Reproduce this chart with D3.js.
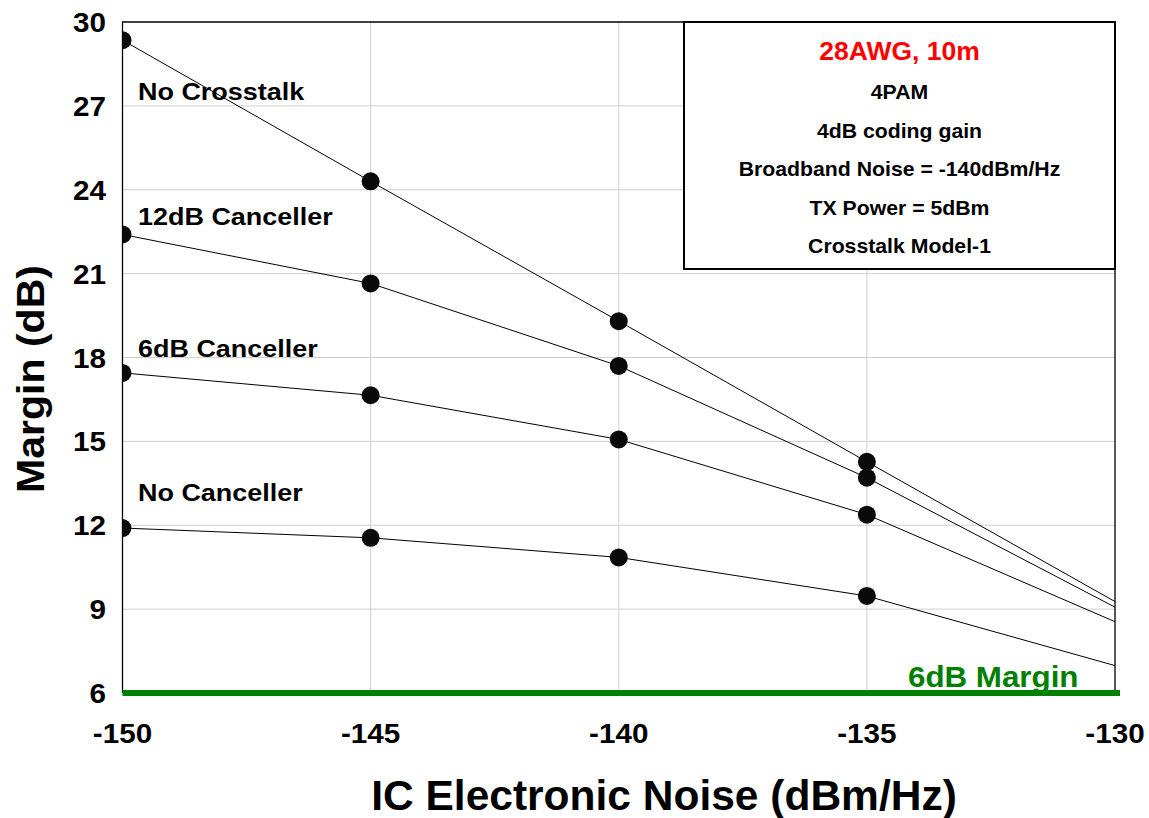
<!DOCTYPE html>
<html>
<head>
<meta charset="utf-8">
<script src="https://cdn.jsdelivr.net/npm/d3@7"></script>
<style>
  html, body { margin: 0; padding: 0; background: #fff; }
  svg { display: block; font-family: "Liberation Sans", Arial, Helvetica, sans-serif; font-weight: bold; }
</style>
</head>
<body>
<svg id="chart" width="1149" height="818"></svg>
<script>
// IC electronic noise levels (dBm/Hz)
const noiseLevels = [-150, -145, -140, -135, -130];

// Margin (dB) per crosstalk scenario
const noCrosstalk   = [29.35, 24.30, 19.30, 14.27, 9.27];
const canceller12dB = [22.40, 20.65, 17.70, 13.70, 9.07];
const canceller6dB  = [17.45, 16.65, 15.07, 12.38, 8.55];
const noCanceller   = [11.90, 11.55, 10.85, 9.47, 6.98];

const seriesNames = ["No Crosstalk", "12dB Canceller", "6dB Canceller", "No Canceller"];
const seriesValues = [noCrosstalk, canceller12dB, canceller6dB, noCanceller];

// Required margin reference
const marginTarget = 6;
const marginLabel = "6dB Margin";

const xTicks = [-150, -145, -140, -135, -130];
const yTicks = [6, 9, 12, 15, 18, 21, 24, 27, 30];

const infoTitle = "28AWG, 10m";
const infoLines = ["4PAM", "4dB coding gain", "Broadband Noise = -140dBm/Hz", "TX Power = 5dBm", "Crosstalk Model-1"];

const xTitle = "IC Electronic Noise (dBm/Hz)";
const yTitle = "Margin (dB)";

// ---- layout ----
const svg = d3.select("#chart");
const plot = { left: 122.5, right: 1115, top: 22, bottom: 693 };

const x = d3.scaleLinear().domain([-150, -130]).range([plot.left, plot.right]);
const y = d3.scaleLinear().domain([6, 30]).range([plot.bottom, plot.top]);

// text with horizontal stretch about its anchor point
function label(parent, str, px, py, opts) {
  const o = Object.assign({ size: 20, anchor: "start", sx: 1, fill: "#000", rotate: 0 }, opts);
  return parent.append("text")
    .attr("transform", `translate(${px},${py}) rotate(${o.rotate}) scale(${o.sx},1)`)
    .attr("text-anchor", o.anchor)
    .attr("font-size", o.size)
    .attr("fill", o.fill)
    .text(str);
}

svg.append("defs").append("clipPath").attr("id", "plotClip")
  .append("rect")
  .attr("x", plot.left).attr("y", plot.top - 12)
  .attr("width", plot.right - plot.left).attr("height", plot.bottom - plot.top + 12);

// grid
const grid = svg.append("g");
grid.selectAll("line.gy").data(yTicks.filter(d => d > 6 && d < 30)).join("line")
  .attr("x1", plot.left).attr("x2", plot.right)
  .attr("y1", d => y(d)).attr("y2", d => y(d))
  .attr("stroke", "#cfcfcf").attr("stroke-width", 1);
grid.selectAll("line.gx").data(xTicks.filter(d => d > -150 && d < -130)).join("line")
  .attr("y1", plot.top).attr("y2", plot.bottom)
  .attr("x1", d => x(d)).attr("x2", d => x(d))
  .attr("stroke", "#cfcfcf").attr("stroke-width", 1);

// plot frame (left, top, right)
svg.append("path")
  .attr("d", `M${plot.left},${plot.bottom}V${plot.top}H${plot.right}V${plot.bottom}`)
  .attr("fill", "none").attr("stroke", "#000").attr("stroke-width", 1.3);

// series lines and markers
const lineGen = d3.line().x((d, i) => x(noiseLevels[i])).y(d => y(d));
const marks = svg.append("g").attr("clip-path", "url(#plotClip)");
seriesValues.forEach(vals => {
  marks.append("path").datum(vals)
    .attr("d", lineGen)
    .attr("fill", "none").attr("stroke", "#000").attr("stroke-width", 1);
});
seriesValues.forEach(vals => {
  marks.selectAll(null).data(vals.slice(0, 4)).join("circle")
    .attr("cx", (d, i) => x(noiseLevels[i]))
    .attr("cy", d => y(d))
    .attr("r", 9)
    .attr("fill", "#0a0a0a");
});

// 6 dB margin line
svg.append("line")
  .attr("x1", x(-150)).attr("x2", x(-130) + 5)
  .attr("y1", y(marginTarget)).attr("y2", y(marginTarget))
  .attr("stroke", "#008000").attr("stroke-width", 6);
label(svg, marginLabel, 908, 687, { size: 29, fill: "#008000", sx: 1.08 });

// series labels
const labelPos = [[138, 100], [138, 225], [138, 357], [138, 501]];
seriesNames.forEach((n, i) => label(svg, n, labelPos[i][0], labelPos[i][1], { size: 24.5, sx: 1.1 }));

// axes tick labels
xTicks.forEach(t => label(svg, t, x(t), 743, { size: 28, anchor: "middle", sx: 1.06 }));
yTicks.forEach(t => label(svg, t, 106, y(t) + 10, { size: 28, anchor: "end", sx: 1.06 }));

// axis titles
label(svg, xTitle, 664, 810, { size: 42.5, anchor: "middle" });
label(svg, yTitle, 44, 379, { size: 38, anchor: "middle", rotate: -90, sx: 1.08 });

// info box
const box = { x: 684, y: 22, w: 431, h: 247 };
svg.append("rect")
  .attr("x", box.x).attr("y", box.y).attr("width", box.w).attr("height", box.h)
  .attr("fill", "#fff").attr("stroke", "#000").attr("stroke-width", 2);
const cx = box.x + box.w / 2;
label(svg, infoTitle, cx, 60, { size: 25, anchor: "middle", fill: "#ff0000", sx: 1.06 });
infoLines.forEach((s, i) => label(svg, s, cx, 99 + i * 38.5, { size: 19.5, anchor: "middle", sx: 1.09 }));
</script>
</body>
</html>
